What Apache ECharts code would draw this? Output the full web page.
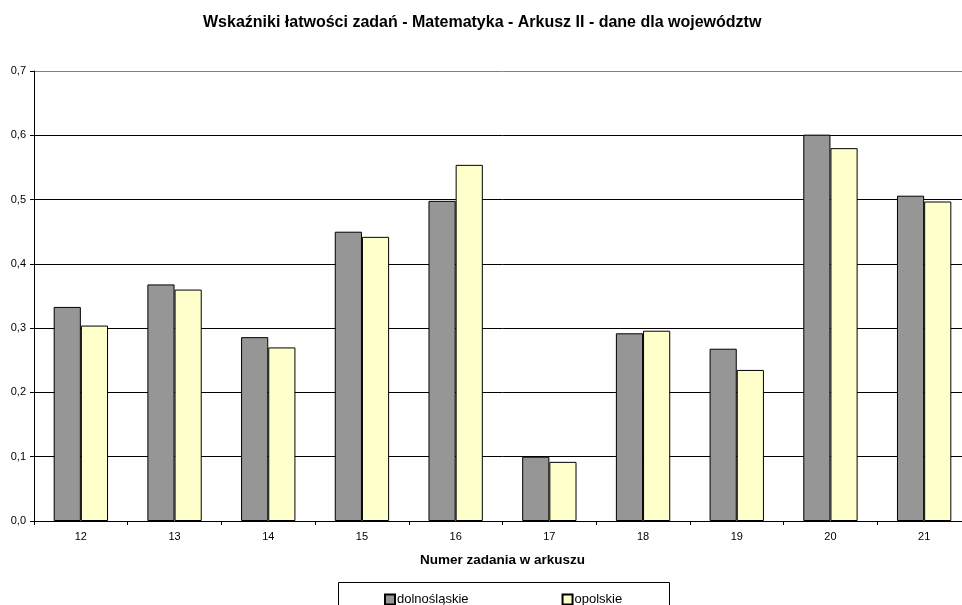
<!DOCTYPE html>
<html><head><meta charset="utf-8">
<script src="https://cdn.jsdelivr.net/npm/echarts@6/dist/echarts.min.js"></script>
<style>html,body{margin:0;padding:0;background:#fff;overflow:hidden;width:962px;height:605px}#c{width:971px;height:605px}</style>
</head><body><div id="c"></div>
<script>
const categories = ['12','13','14','15','16','17','18','19','20','21'];
const dolnoslaskie = [0.333,0.368,0.286,0.450,0.498,0.100,0.292,0.268,0.601,0.506];
const opolskie = [0.304,0.360,0.270,0.442,0.554,0.092,0.296,0.235,0.580,0.497];
const seriesNames = ['dolnośląskie','opolskie'];
const titleText = 'Wskaźniki łatwości zadań - Matematyka - Arkusz II - dane dla województw';
const xName = 'Numer zadania w arkuszu';

const F = 'Arial, "Liberation Sans", sans-serif';
const chart = echarts.init(document.getElementById('c'));
chart.setOption({
  animation: false,
  backgroundColor: '#fff',
  title: { text: titleText, left: 198, top: 10,
    textStyle: { fontFamily: F, fontSize: 16, fontWeight: 'bold', color: '#000' } },
  grid: { left: 34, top: 71, right: 0, bottom: 84 },
  graphic: [{ type: 'rect', left: 338, top: 582, shape: { width: 331, height: 30 },
    style: { fill: '#fff', stroke: '#000', lineWidth: 1 }, z: 0 }],
  legend: { left: 379, top: 588, itemWidth: 10, itemHeight: 10, itemGap: 93,
    icon: 'rect', z: 10,
    textStyle: { fontFamily: F, fontSize: 13, color: '#000', padding: [0,0,0,-3] },
    data: seriesNames },
  xAxis: { type: 'category', data: categories,
    name: xName, nameLocation: 'middle', nameGap: 32,
    nameTextStyle: { fontFamily: F, fontSize: 13.5, fontWeight: 'bold', color: '#000' },
    axisLine: { lineStyle: { color: '#000', width: 1 } },
    axisTick: { show: true, length: 4, lineStyle: { color: '#000' } },
    axisLabel: { fontFamily: F, fontSize: 11, color: '#000', margin: 10 } },
  yAxis: { type: 'value', min: 0, max: 0.7, interval: 0.1,
    axisLine: { show: true, lineStyle: { color: '#000', width: 1 } },
    axisTick: { show: true, length: 4, lineStyle: { color: '#000' } },
    axisLabel: { fontFamily: F, fontSize: 11, color: '#000', margin: 8,
      formatter: v => v.toFixed(1).replace('.', ',') },
    splitLine: { show: true, lineStyle: { color: ['#000','#000','#000','#000','#000','#000','#000','#808080'], width: 1 } } },
  series: [
    { name: seriesNames[0], type: 'bar', data: dolnoslaskie, barGap: '0%', barCategoryGap: '42%',
      itemStyle: { color: '#969696', borderColor: '#000', borderWidth: 1 } },
    { name: seriesNames[1], type: 'bar', data: opolskie, barGap: '0%', barCategoryGap: '42%',
      itemStyle: { color: '#FFFFCC', borderColor: '#000', borderWidth: 1 } }
  ]
});
</script></body></html>
